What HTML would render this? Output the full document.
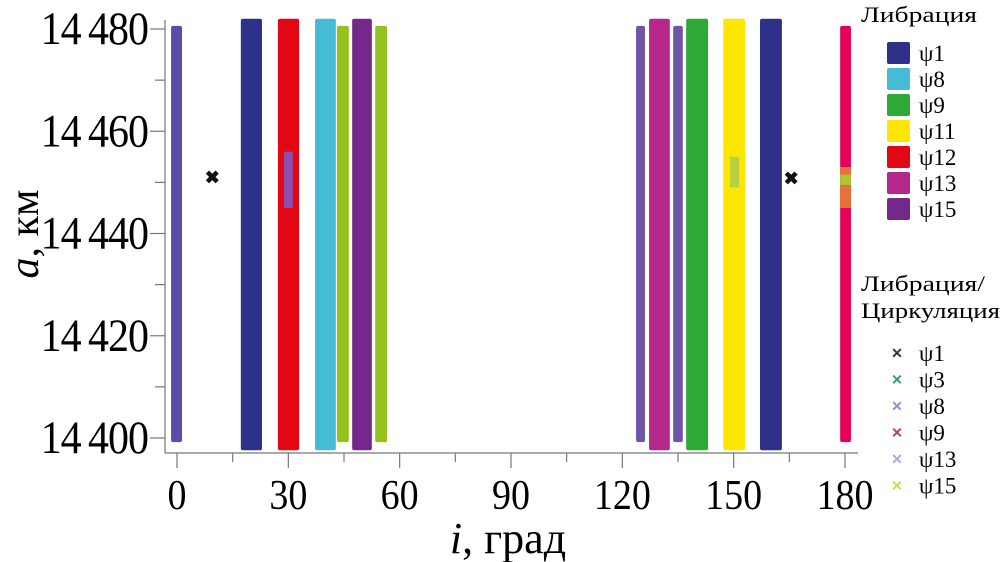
<!DOCTYPE html>
<html><head><meta charset="utf-8"><style>
body{margin:0;background:#fff;}
svg{display:block;font-family:"Liberation Serif",serif;}
</style></head><body>
<svg id="chart" width="1004" height="562" xmlns="http://www.w3.org/2000/svg">
<g id="bars"></g>
<g id="axes"></g>
<g id="legend"></g>
</svg>
<script>
const barStart=[-1.6,17.2,27.2,37.2,43.1,47.2,53.4,123.7,127.2,133.7,137.2,147.2,157.1,178.7];
const barEnd=[1.35,22.9,32.9,42.8,46.3,52.5,56.6,126.1,132.8,136.3,143.1,153.1,163.0,181.6];
const barTop=[14480.6,14482,14482,14482,14480.6,14482,14480.6,14480.6,14482,14480.6,14482,14482,14482,14480.6];
const barBottom=[14399.2,14397.6,14397.6,14397.6,14399.2,14397.6,14399.2,14399.2,14397.6,14399.2,14397.6,14397.6,14397.6,14399.2];
const barColors=['#5a4fa8','#2e3189','#e30613','#45bcd6','#95c11f','#74288a','#95c11f','#7054a6','#b5288a','#7054a6','#2ea836','#ffe600','#2e3189','#e5005a'];
const markI=[9.5,165.5];
const markA=[14451,14450.8];
const xTicks=[0,30,60,90,120,150,180];
const yTicks=[14400,14420,14440,14460,14480];
const legLib=['ψ1','ψ8','ψ9','ψ11','ψ12','ψ13','ψ15'];
const legLibColors=['#2e3189','#45bcd6','#2ea836','#ffe600','#e30613','#b5288a','#74288a'];
const legCirc=['ψ1','ψ3','ψ8','ψ9','ψ13','ψ15'];
const legCircColors=['#333','#3a9a6a','#9a8ccc','#b03a7a','#b8a0d8','#c8dc50'];

const NS='http://www.w3.org/2000/svg';
const X=i=>177+i*(845-177)/180;
const Y=a=>438-(a-14400)*(438-29)/80;
function mk(t,attrs,parent,txt){const e=document.createElementNS(NS,t);for(const k in attrs)e.setAttribute(k,attrs[k]);if(txt!==undefined)e.textContent=txt;parent.appendChild(e);return e;}
const bars=document.getElementById('bars'),axes=document.getElementById('axes'),leg=document.getElementById('legend');
barStart.forEach((s,k)=>{
  const r=mk('rect',{x:X(s),y:Y(barTop[k]),width:X(barEnd[k])-X(s),height:Y(barBottom[k])-Y(barTop[k]),fill:barColors[k],rx:2},bars);
  
  
});
const spot1=mk('rect',{x:X(28.8),y:Y(14456),width:X(31.2)-X(28.8),height:Y(14445)-Y(14456),fill:'#8a4fb0'},bars);


const spot2=mk('rect',{x:X(149),y:Y(14455),width:X(151.5)-X(149),height:Y(14449)-Y(14455),fill:'#b8d040'},bars);


const spot3=mk('rect',{x:X(178.7),y:Y(14453),width:X(181.6)-X(178.7),height:Y(14445)-Y(14453),fill:'#e8703a'},bars);


const spot4=mk('rect',{x:X(178.7),y:Y(14451.5),width:X(181.6)-X(178.7),height:Y(14449.5)-Y(14451.5),fill:'#a8c830'},bars);


markI.forEach((v,k)=>{
  const m=mk('text',{x:X(v),y:Y(markA[k])+6,'text-anchor':'middle','font-size':18,'font-weight':'bold',fill:'#111'},bars,'✖');
  
  
});
mk('line',{x1:165,y1:20,x2:165,y2:453,stroke:'#777','stroke-width':1.2},axes);
mk('line',{x1:165,y1:453,x2:858,y2:453,stroke:'#777','stroke-width':1.2},axes);
yTicks.forEach(v=>{
  mk('line',{x1:150,y1:Y(v),x2:165,y2:Y(v),stroke:'#777','stroke-width':1.2},axes);
  if(v<14480)mk('line',{x1:155,y1:Y(v+10),x2:165,y2:Y(v+10),stroke:'#777','stroke-width':1.2},axes);
  const t=mk('text',{x:0,y:0,'text-anchor':'end','font-size':42,fill:'#000','letter-spacing':'-1',transform:`translate(148,${Y(v)+15}) scale(1,1.12)`},axes,String(v).slice(0,2)+'\u2009'+String(v).slice(2));
  
  
});
xTicks.forEach((v,k)=>{
  mk('line',{x1:X(v),y1:453,x2:X(v),y2:468,stroke:'#777','stroke-width':1.2},axes);
  if(k<xTicks.length-1)mk('line',{x1:X(v+15),y1:453,x2:X(v+15),y2:462,stroke:'#777','stroke-width':1.2},axes);
  const t=mk('text',{x:0,y:0,'text-anchor':'middle','font-size':38,fill:'#000',transform:`translate(${X(v)},509) scale(1,1.1)`},axes,String(v));
  
  
});
const xt=mk('text',{x:508,y:553,'text-anchor':'middle','font-size':44,fill:'#000'},axes);
xt.innerHTML='<tspan font-style="italic">i</tspan>, град';


const yt=mk('text',{x:0,y:0,'text-anchor':'middle','font-size':42,fill:'#000',transform:'translate(38,234) rotate(-90)'},axes);
yt.innerHTML='<tspan font-style="italic">a</tspan>, км';


const t1=mk('text',{x:861,y:22,'font-size':22,fill:'#000',textLength:116,lengthAdjust:'spacingAndGlyphs'},leg,'Либрация');


legLib.forEach((n,k)=>{
  const y=53+k*26;
  const r=mk('rect',{x:887,y:y-11,width:23,height:22,fill:legLibColors[k],rx:2},leg);
  
  
  const t=mk('text',{x:919,y:y+8,'font-size':23,fill:'#000'},leg,n);
  
  
});
const t2=mk('text',{x:861,y:291,'font-size':22,fill:'#000',textLength:124,lengthAdjust:'spacingAndGlyphs'},leg,'Либрация/');


const t3=mk('text',{x:861,y:318,'font-size':22,fill:'#000',textLength:139,lengthAdjust:'spacingAndGlyphs'},leg,'Циркуляция');


legCirc.forEach((n,k)=>{
  const y=353+k*26.5;
  const m=mk('text',{x:897,y:y+5,'text-anchor':'middle','font-size':14,'font-weight':'bold',fill:legCircColors[k]},leg,'✕');
  
  
  const t=mk('text',{x:919,y:y+8,'font-size':23,fill:'#000'},leg,n);
  
  
});
</script>
</body></html>
